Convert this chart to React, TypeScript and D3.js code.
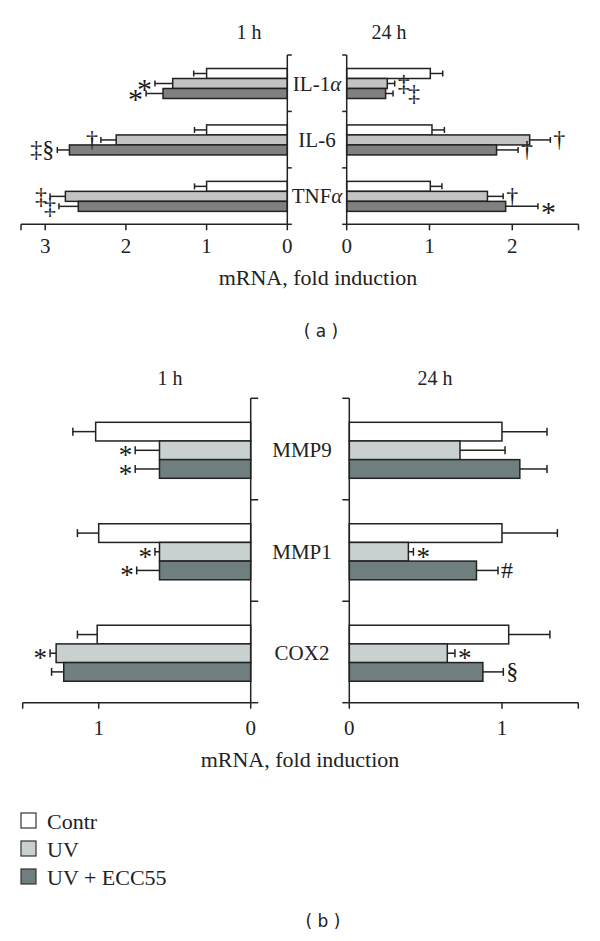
import * as d3 from "d3";

const W = 600;
const H = 941;
const FONT = "'Liberation Serif', 'Times New Roman', serif";

const SERIES = ["Contr", "UV", "UV + ECC55"];
const COLORS_A = ["#ffffff", "#c3c3c3", "#808080"];
const COLORS_B = ["#ffffff", "#c9d1d0", "#6f7f7f"];

// panel (a): cytokines
const CATS_A = ["IL-1α", "IL-6", "TNFα"];
const A_1H_MEAN = [
  [1.0, 1.42, 1.54],
  [1.0, 2.12, 2.7],
  [1.0, 2.75, 2.59],
];
const A_1H_ERR = [
  [0.16, 0.22, 0.21],
  [0.15, 0.19, 0.15],
  [0.15, 0.19, 0.24],
];
const A_24H_MEAN = [
  [1.01, 0.49, 0.47],
  [1.03, 2.21, 1.81],
  [1.01, 1.7, 1.92],
];
const A_24H_ERR = [
  [0.15, 0.09, 0.09],
  [0.15, 0.25, 0.26],
  [0.14, 0.19, 0.39],
];
const A_1H_TICKS = [0, 1, 2, 3];
const A_24H_TICKS = [0, 1, 2];

// panel (b): MMPs and COX2
const CATS_B = ["MMP9", "MMP1", "COX2"];
const B_1H_MEAN = [
  [1.02, 0.6, 0.6],
  [1.0, 0.6, 0.6],
  [1.01, 1.28, 1.23],
];
const B_1H_ERR = [
  [0.15, 0.16, 0.16],
  [0.14, 0.03, 0.15],
  [0.13, 0.04, 0.08],
];
const B_24H_MEAN = [
  [1.0, 0.725, 1.117],
  [1.0, 0.387, 0.833],
  [1.044, 0.642, 0.875],
];
const B_24H_ERR = [
  [0.295, 0.295, 0.178],
  [0.363, 0.033, 0.141],
  [0.27, 0.05, 0.134],
];
const B_TICKS = [0, 1];

// significance marks: [category, series, mark, lane]
type Mark = [number, number, string, number];
const A_1H_MARKS: Mark[] = [
  [0, 1, "*", 0],
  [0, 2, "*", 0],
  [1, 1, "†", 0],
  [1, 2, "‡§", 0],
  [2, 1, "‡", 0],
  [2, 2, "‡", 0],
];
const A_24H_MARKS: Mark[] = [
  [0, 1, "‡", 0],
  [0, 2, "‡", 1],
  [1, 1, "†", 0],
  [1, 2, "†", 0],
  [2, 1, "†", 0],
  [2, 2, "*", 0],
];
const B_1H_MARKS: Mark[] = [
  [0, 1, "*", 0],
  [0, 2, "*", 0],
  [1, 1, "*", 0],
  [1, 2, "*", 0],
  [2, 1, "*", 0],
];
const B_24H_MARKS: Mark[] = [
  [1, 1, "*", 0],
  [1, 2, "#", 0],
  [2, 1, "*", 0],
  [2, 2, "§", 0],
];

type HalfProps = {
  x: d3.ScaleLinear<number, number>;
  y: d3.ScaleBand<string>;
  sub: d3.ScaleBand<string>;
  cats: string[];
  means: number[][];
  errs: number[][];
  marks: Mark[];
  ticks: number[];
  colors: string[];
  side: "left" | "right";
  ytick: number;
  capH: number;
  labelDy: number;
  starSize: number;
};

const Half = ({ x, y, sub, cats, means, errs, marks, ticks, colors, side, ytick, capH, labelDy, starSize }: HalfProps) => {
  const dir = side === "left" ? -1 : 1;
  const x0 = x(0);
  const [yTop, yBot] = y.range();
  const xEnd = x(x.domain()[1]);
  const bandEdges = d3.range(cats.length + 1).map((i) => yTop + i * y.step());

  const bars = cats.map((c, i) => (
    <g key={c}>
      {SERIES.map((s, j) => {
        const top = (y(c) ?? 0) + (sub(s) ?? 0);
        const xv = x(means[i][j]);
        const xe = x(means[i][j] + errs[i][j]);
        const cy = top + sub.bandwidth() / 2;
        return (
          <g key={s}>
            <line x1={xv} x2={xe} y1={cy} y2={cy} stroke="#222" strokeWidth={1.5} />
            <line x1={xe} x2={xe} y1={cy - capH / 2} y2={cy + capH / 2} stroke="#222" strokeWidth={1.5} />
            <rect
              x={Math.min(x0, xv)}
              y={top}
              width={Math.abs(xv - x0)}
              height={sub.bandwidth()}
              fill={colors[j]}
              stroke="#222"
              strokeWidth={1.5}
            />
          </g>
        );
      })}
    </g>
  ));

  const markEls = marks.map(([ci, si, m, lane], k) => {
    const c = cats[ci];
    const s = SERIES[si];
    const cy = (y(c) ?? 0) + (sub(s) ?? 0) + sub.bandwidth() / 2;
    const xe = x(means[ci][si] + errs[ci][si]);
    const star = m === "*";
    const fs = star ? starSize : 24;
    const base = cy + (star ? 0.52 * fs : 0.3 * fs);
    return (
      <text
        key={k}
        x={xe + dir * (3 + lane * 12)}
        y={base}
        fontSize={fs}
        textAnchor={side === "left" ? "end" : "start"}
        fill="#1a1a1a"
      >
        {m}
      </text>
    );
  });

  return (
    <g fontFamily={FONT}>
      {bars}
      {markEls}
      {/* y axis */}
      <line x1={x0} x2={x0} y1={yTop} y2={yBot} stroke="#222" strokeWidth={1.5} />
      {bandEdges.map((v, i) => (
        <line key={i} x1={x0} x2={x0 - dir * ytick} y1={v} y2={v} stroke="#222" strokeWidth={1.5} />
      ))}
      {/* x axis */}
      <line x1={x0} x2={xEnd} y1={yBot} y2={yBot} stroke="#222" strokeWidth={1.5} />
      {[...ticks, x.domain()[1]].map((t, i) => (
        <line key={i} x1={x(t)} x2={x(t)} y1={yBot} y2={yBot + 6} stroke="#222" strokeWidth={1.5} />
      ))}
      {ticks.map((t) => (
        <text key={t} x={x(t)} y={yBot + labelDy} fontSize={21} textAnchor="middle" fill="#222">
          {t}
        </text>
      ))}
    </g>
  );
};

const makeY = (cats: string[], range: [number, number], barRange: [number, number]) => {
  const y = d3.scaleBand<string>().domain(cats).range(range).padding(0);
  const sub = d3.scaleBand<string>().domain(SERIES).range(barRange).padding(0);
  return { y, sub };
};

const Label = ({ text, x, y }: { text: string; x: number; y: number }) => {
  const greek = text.endsWith("α");
  return (
    <text x={x} y={y} fontSize={21} textAnchor="middle" fontFamily={FONT} fill="#222" dominantBaseline="central">
      {greek ? text.slice(0, -1) : text}
      {greek && <tspan fontStyle="italic">α</tspan>}
    </text>
  );
};

export default function App() {
  // panel (a)
  const ya = makeY(CATS_A, [55, 224.3], [13.5, 43.5]);
  const xa1 = d3.scaleLinear().domain([0, 3.3]).range([287.3, 21]);
  const xa24 = d3.scaleLinear().domain([0, 2.8]).range([346.7, 578.5]);

  // panel (b)
  const yb = makeY(CATS_B, [398.3, 702.7], [24, 80]);
  const xb1 = d3.scaleLinear().domain([0, 1.5]).range([250.7, 22.7]);
  const xb24 = d3.scaleLinear().domain([0, 1.5]).range([349.3, 578.3]);

  const legendY = [813, 841, 869];

  return (
    <svg
      width={W}
      height={H}
      style={{ position: "absolute", left: 0, top: 0, background: "#fff" }}
    >
      <rect width={W} height={H} fill="#fff" />

      {/* (a) */}
      <g fontFamily={FONT} fill="#222" fontSize={20} textAnchor="middle">
        <text x={249} y={39}>1 h</text>
        <text x={389} y={39}>24 h</text>
      </g>
      <Half
        x={xa1} {...ya} cats={CATS_A} means={A_1H_MEAN} errs={A_1H_ERR} marks={A_1H_MARKS}
        ticks={A_1H_TICKS} colors={COLORS_A} side="left" ytick={4.5} capH={6} labelDy={28.5} starSize={30}
      />
      <Half
        x={xa24} {...ya} cats={CATS_A} means={A_24H_MEAN} errs={A_24H_ERR} marks={A_24H_MARKS}
        ticks={A_24H_TICKS} colors={COLORS_A} side="right" ytick={4.5} capH={6} labelDy={28.5} starSize={30}
      />
      {CATS_A.map((c) => (
        <Label key={c} text={c} x={317} y={(ya.y(c) ?? 0) + (ya.sub("UV") ?? 0) + ya.sub.bandwidth() / 2} />
      ))}
      <text x={318} y={285} fontSize={22} fontFamily={FONT} textAnchor="middle" fill="#222">
        mRNA, fold induction
      </text>
      <text x={321} y={337} fontSize={17} fontFamily="'DejaVu Sans', sans-serif" textAnchor="middle" fill="#222">
        ( a )
      </text>

      {/* (b) */}
      <g fontFamily={FONT} fill="#222" fontSize={20} textAnchor="middle">
        <text x={170} y={385}>1 h</text>
        <text x={435} y={385}>24 h</text>
      </g>
      <Half
        x={xb1} {...yb} cats={CATS_B} means={B_1H_MEAN} errs={B_1H_ERR} marks={B_1H_MARKS}
        ticks={B_TICKS} colors={COLORS_B} side="left" ytick={7.5} capH={8} labelDy={32.5} starSize={27}
      />
      <Half
        x={xb24} {...yb} cats={CATS_B} means={B_24H_MEAN} errs={B_24H_ERR} marks={B_24H_MARKS}
        ticks={B_TICKS} colors={COLORS_B} side="right" ytick={7} capH={8} labelDy={32.5} starSize={27}
      />
      {CATS_B.map((c) => (
        <Label key={c} text={c} x={302} y={(yb.y(c) ?? 0) + (yb.sub("UV") ?? 0) + yb.sub.bandwidth() / 2} />
      ))}
      <text x={300} y={767} fontSize={22} fontFamily={FONT} textAnchor="middle" fill="#222">
        mRNA, fold induction
      </text>

      {/* legend */}
      {SERIES.map((s, i) => (
        <g key={s} fontFamily={FONT}>
          <rect x={21} y={legendY[i]} width={15} height={15} fill={COLORS_B[i]} stroke="#333" strokeWidth={1.2} />
          <text x={47} y={legendY[i] + 16} fontSize={22} fill="#222">
            {s}
          </text>
        </g>
      ))}

      <text x={323} y={927} fontSize={17} fontFamily="'DejaVu Sans', sans-serif" textAnchor="middle" fill="#222">
        ( b )
      </text>
    </svg>
  );
}
